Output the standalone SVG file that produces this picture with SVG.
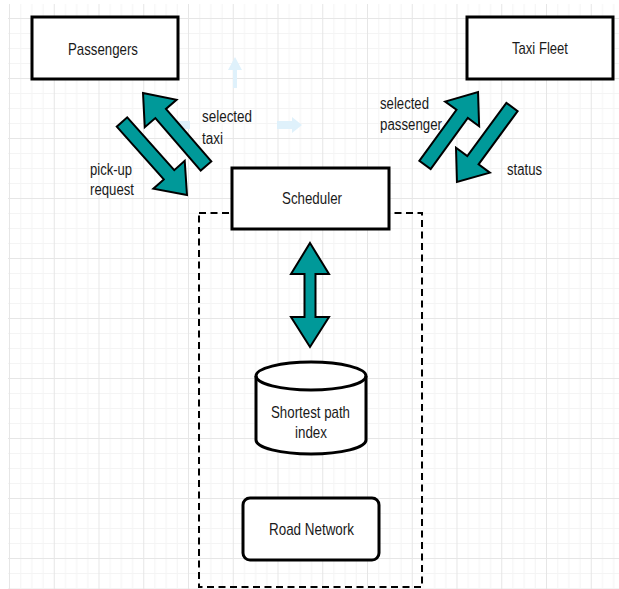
<svg xmlns="http://www.w3.org/2000/svg" width="619" height="589" viewBox="0 0 619 589">
<defs>
<pattern id="grid" patternUnits="userSpaceOnUse" x="9" y="18" width="44.75" height="60">
<rect x="11.19" y="0" width="1" height="60" fill="#f4f4f4"/>
<rect x="22.37" y="0" width="1" height="60" fill="#f4f4f4"/>
<rect x="33.56" y="0" width="1" height="60" fill="#f4f4f4"/>
<rect x="0" y="15" width="44.75" height="1" fill="#f4f4f4"/>
<rect x="0" y="30" width="44.75" height="1" fill="#f4f4f4"/>
<rect x="0" y="45" width="44.75" height="1" fill="#f4f4f4"/>
<rect x="0" y="0" width="1" height="60" fill="#e6e6e6"/>
<rect x="0" y="0" width="44.75" height="1" fill="#e6e6e6"/>
</pattern>
</defs>
<style>
.box{fill:#fff;stroke:#000;stroke-width:3}
.lbl{font-family:"Liberation Sans",Arial,sans-serif;font-size:17px;fill:#1a1a1a}
.alb{font-family:"Liberation Sans",Arial,sans-serif;font-size:16px;fill:#1a1a1a}
.arr{fill:#009999;stroke:#000;stroke-width:2;stroke-linejoin:miter}
.ghost{fill:#dff1fb}
</style>
<rect x="0" y="0" width="619" height="589" fill="#fff"/>
<rect x="8" y="4" width="611" height="585" fill="url(#grid)"/>

<g id="hover-hints">
<polygon class="ghost" points="235,57 242,70 237,70 237,88 233,88 233,70 228,70"/>
<polygon class="ghost" points="302,125 292,117 292,121 277,121 277,129 292,129 292,133"/>
<polygon class="ghost" points="163,125 173,117 173,121 190,121 190,129 173,129 173,133"/>
</g>

<g id="subsystem">
<rect x="199" y="213" width="223" height="374" fill="none" stroke="#000" stroke-width="2" stroke-dasharray="7 4.5"/>
</g>

<g id="connectors">
<polygon class="arr" transform="translate(206,166) rotate(-130.8)" points="0,-7 69.4,-7 69.4,-21 96.4,0 69.4,21 69.4,7 0,7"/>
<polygon class="arr" transform="translate(122,122) rotate(48.3)" points="0,-7 70.7,-7 70.7,-21 97.7,0 70.7,21 70.7,7 0,7"/>
<polygon class="arr" transform="translate(425,165) rotate(-54)" points="0,-7 63.2,-7 63.2,-21 90.2,0 63.2,21 63.2,7 0,7"/>
<polygon class="arr" transform="translate(512,107) rotate(126.3)" points="0,-7 66,-7 66,-21 93,0 66,21 66,7 0,7"/>
<polygon class="arr" points="310,243 329,274 315.5,274 315.5,317 329,317 310,347 291,317 304.5,317 304.5,274 291,274"/>
</g>

<g id="passengers">
<rect class="box" x="32" y="17" width="146" height="62"/>
<text class="lbl" x="68" y="55" textLength="70" lengthAdjust="spacingAndGlyphs">Passengers</text>
</g>

<g id="taxi-fleet">
<rect class="box" x="467" y="17" width="146" height="62"/>
<text class="lbl" x="512" y="54" textLength="56" lengthAdjust="spacingAndGlyphs">Taxi Fleet</text>
</g>

<g id="scheduler">
<rect class="box" x="232" y="168" width="157" height="61"/>
<text class="lbl" x="282" y="204" textLength="60" lengthAdjust="spacingAndGlyphs">Scheduler</text>
</g>

<g id="shortest-path-index">
<path class="box" d="M256,376 L256,440 A55,14 0 0 0 366,440 L366,376 A55,14 0 0 0 256,376 Z"/>
<path fill="none" stroke="#000" stroke-width="3" d="M256,376 A55,14 0 0 0 366,376"/>
<text class="lbl" x="271" y="418" textLength="79" lengthAdjust="spacingAndGlyphs">Shortest path</text>
<text class="lbl" x="295" y="438" textLength="32" lengthAdjust="spacingAndGlyphs">index</text>
</g>

<g id="road-network">
<rect class="box" x="243" y="498" width="136" height="62" rx="7" ry="7"/>
<text class="lbl" x="269" y="535" textLength="85" lengthAdjust="spacingAndGlyphs">Road Network</text>
</g>

<g id="labels">
<text class="alb" x="202" y="122" textLength="50" lengthAdjust="spacingAndGlyphs">selected</text>
<text class="alb" x="202" y="144" textLength="21" lengthAdjust="spacingAndGlyphs">taxi</text>
<text class="alb" x="90" y="175" textLength="42" lengthAdjust="spacingAndGlyphs">pick-up</text>
<text class="alb" x="90" y="195" textLength="44" lengthAdjust="spacingAndGlyphs">request</text>
<text class="alb" x="380" y="109" textLength="49" lengthAdjust="spacingAndGlyphs">selected</text>
<text class="alb" x="380" y="130" textLength="62" lengthAdjust="spacingAndGlyphs">passenger</text>
<text class="alb" x="507" y="175" textLength="35" lengthAdjust="spacingAndGlyphs">status</text>
</g>
</svg>
